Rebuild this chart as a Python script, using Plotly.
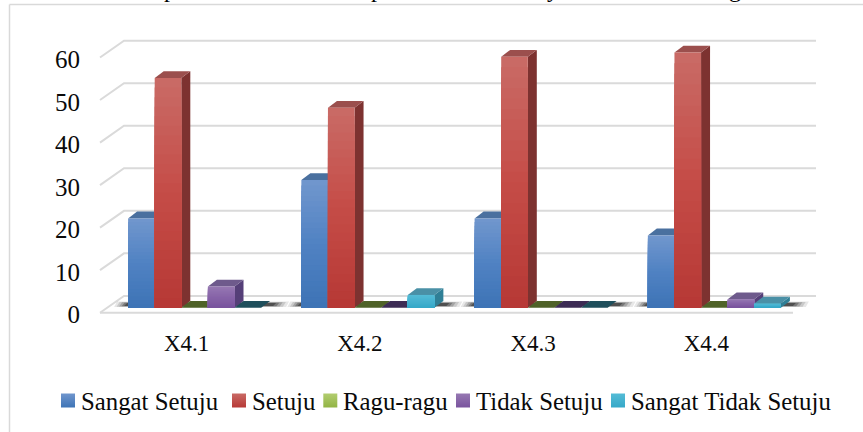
import plotly.graph_objects as go

# ---- data ----
categories = ["X4.1", "X4.2", "X4.3", "X4.4"]
sangat_setuju = [21, 30, 21, 17]
setuju = [54, 47, 59, 60]
ragu_ragu = [0, 0, 0, 0]
tidak_setuju = [5, 0, 0, 2]
sangat_tidak_setuju = [0, 3, 0, 1]
series_names = ["Sangat Setuju", "Setuju", "Ragu-ragu", "Tidak Setuju", "Sangat Tidak Setuju"]
series_values = [sangat_setuju, setuju, ragu_ragu, tidak_setuju, sangat_tidak_setuju]
y_ticks = [0, 10, 20, 30, 40, 50, 60]

# ---- styles ----
W, H = 863, 432
FONT = "Liberation Serif"
GRID = "#DADADA"
grad_stops = [
    [(112, 150, 205), (80, 130, 195), (62, 116, 182)],
    [(201, 106, 101), (197, 76, 71), (183, 57, 54)],
    [(178, 205, 112), (160, 192, 88), (146, 180, 68)],
    [(150, 120, 178), (135, 100, 168), (122, 84, 158)],
    [(84, 188, 214), (70, 178, 208), (54, 168, 200)],
]
side_cols = ["#3F5F8C", "#7D3230", "#5F7530", "#553F78", "#2F7F96"]
top_cols = ["#4A709F", "#9B4F4D", "#76923C", "#6E5A8C", "#4A90A6"]
zero_cols = ["#26405F", "#5A2020", "#4F6228", "#3D2C55", "#1F4F5C"]

# pixel geometry of the picture -> axis scales
CAT_PX = 173.25
CAT0_PX = 186.6
ZERO_PY = 307.7
UNIT_PY = 4.2533
BAR_W = 26.6
GROUP_SHIFT = 8.0
DEPTH_X, DEPTH_Y = 9.0, 6.8


def X(px):
    return (px - CAT0_PX) / CAT_PX


def Y(py):
    return (ZERO_PY - py) / UNIT_PY


ddx = lambda px: px / CAT_PX
ddy = lambda py: py / UNIT_PY
x_range = [X(0), X(W)]
y_range = [Y(H), Y(0)]
bar_w = ddx(BAR_W)
n_series = len(series_values)

fig = go.Figure()
skip = dict(hoverinfo="skip", showlegend=False)

# walls: gridlines with their left-hand diagonal
gx, gy = [], []
for t in y_ticks:
    gx += [X(100), X(124), X(816), None]
    gy += [t - ddy(5), t + ddy(11.8), t + ddy(11.8), None]
gx += [X(100), X(793), None]
gy += [-ddy(5), -ddy(5), None]
fig.add_trace(go.Scatter(x=gx, y=gy, mode="lines", line=dict(color=GRID, width=2), **skip))

# floor shadows
for i in range(len(categories)):
    left = i + ddx(GROUP_SHIFT) - n_series / 2 * bar_w
    right = left + n_series * bar_w
    for grow, alpha in [(1.0, 0.10), (0.75, 0.14), (0.5, 0.2), (0.25, 0.3), (0.0, 0.4)]:
        l = left - ddx(4 + 10 * grow)
        r = right + ddx(12 + 13 * grow)
        lo = ddy(1.8 - 1.2 * grow)
        hi = ddy(4.6 + 1.6 * grow)
        fig.add_trace(go.Scatter(
            x=[l, r, r + ddx(3), l + ddx(3), l], y=[lo, lo, hi, hi, lo],
            mode="lines", fill="toself", fillcolor=f"rgba(20,20,20,{alpha})",
            line=dict(width=0), **skip))

# side and top faces, left to right
for i in range(len(categories)):
    for s, vals in enumerate(series_values):
        v = vals[i]
        x0 = i + ddx(GROUP_SHIFT) + (s - n_series / 2) * bar_w
        x1 = x0 + bar_w
        dx, dy = ddx(DEPTH_X), ddy(DEPTH_Y)
        if v > 0:
            fig.add_trace(go.Scatter(
                x=[x1, x1 + dx, x1 + dx, x1, x1], y=[0, dy, v + dy, v, 0],
                mode="lines", fill="toself", fillcolor=side_cols[s], line=dict(width=0), **skip))
        fig.add_trace(go.Scatter(
            x=[x0, x1, x1 + dx, x0 + dx, x0], y=[v, v, v + dy, v + dy, v],
            mode="lines", fill="toself",
            fillcolor=top_cols[s] if v > 0 else zero_cols[s], line=dict(width=0), **skip))


def mix(stops, f):
    if f < 0.5:
        a, b, k = stops[0], stops[1], f * 2
    else:
        a, b, k = stops[1], stops[2], (f - 0.5) * 2
    return "rgb(%d,%d,%d)" % tuple(round(a[j] + (b[j] - a[j]) * k) for j in range(3))


# front faces: real bars; shorter darker copies are painted over taller lighter ones
N = 24
for s, vals in enumerate(series_values):
    xs, hs, cols = [], [], []
    for i, v in enumerate(vals):
        for k in range(N):
            xs.append(i)
            hs.append(v * (N - k) / N)
            cols.append(mix(grad_stops[s], k / (N - 1)))
    fig.add_trace(go.Bar(
        x=xs, y=hs, width=bar_w,
        offset=ddx(GROUP_SHIFT) + (s - n_series / 2) * bar_w,
        marker=dict(color=cols, line=dict(width=0)),
        name=series_names[s], xaxis="x2", yaxis="y2", hoverinfo="skip", showlegend=False))

# legend row
swatch_px = [68, 239, 330.3, 463, 618]
label_px = [79, 250, 341, 473.5, 629]
LEG_PY = 400.5
for s, name in enumerate(series_names):
    c = grad_stops[s]
    fig.add_trace(go.Scatter(
        x=[X(swatch_px[s])], y=[Y(LEG_PY)], mode="markers", name=name,
        marker=dict(symbol="square", size=14, color="rgb(%d,%d,%d)" % c[0],
                    gradient=dict(type="vertical", color="rgb(%d,%d,%d)" % c[2]),
                    line=dict(width=0)),
        hoverinfo="skip", showlegend=False))

annotations = []
for s, name in enumerate(series_names):
    annotations.append(dict(
        x=label_px[s] / W, y=1 - (LEG_PY + 0.5) / H, xref="paper", yref="paper",
        text=name, showarrow=False, xanchor="left", yanchor="middle",
        font=dict(family=FONT, size=24.8, color="#0A0A0A")))

# caption cut off by the top edge of the picture: only its descenders show
for ch, px in [("p", 170), ("p", 377), ("y", 553), ("g", 735)]:
    annotations.append(dict(
        x=px / W, y=1 + 10.5 / H, xref="paper", yref="paper", text=ch, showarrow=False,
        xanchor="center", yanchor="middle", font=dict(family=FONT, size=24, color="#000000")))

shapes = [
    dict(type="line", xref="paper", yref="paper", x0=9.5 / W, x1=1, y0=1 - 4.5 / H, y1=1 - 4.5 / H,
         line=dict(color="#D9D9D9", width=1.5), layer="below"),
    dict(type="line", xref="paper", yref="paper", x0=9.5 / W, x1=9.5 / W, y0=0, y1=1 - 4.5 / H,
         line=dict(color="#D9D9D9", width=1.5), layer="below"),
]

fig.update_layout(
    width=W, height=H, margin=dict(l=0, r=0, t=0, b=0), autosize=False,
    paper_bgcolor="white", plot_bgcolor="white", barmode="overlay", showlegend=False,
    font=dict(family=FONT, color="#0A0A0A"),
    annotations=annotations, shapes=shapes,
    xaxis=dict(range=x_range, domain=[0, 1], tickmode="array",
               tickvals=list(range(len(categories))), ticktext=categories,
               showgrid=False, zeroline=False, showline=False, ticks="",
               anchor="free", position=1 - 312.7 / H, ticklabelstandoff=14,
               tickfont=dict(family=FONT, size=23, color="#0A0A0A")),
    yaxis=dict(range=y_range, domain=[0, 1], tickmode="array", tickvals=y_ticks,
               showgrid=False, zeroline=False, showline=False, ticks="",
               anchor="free", position=100 / W, ticklabelstandoff=20, ticklabelshift=7,
               tickfont=dict(family=FONT, size=25, color="#0A0A0A")),
    xaxis2=dict(range=x_range, overlaying="x", visible=False),
    yaxis2=dict(range=y_range, overlaying="y", visible=False),
)

fig.write_html("out.html", config=dict(displayModeBar=False),
               post_script="document.body.style.margin='0';")
